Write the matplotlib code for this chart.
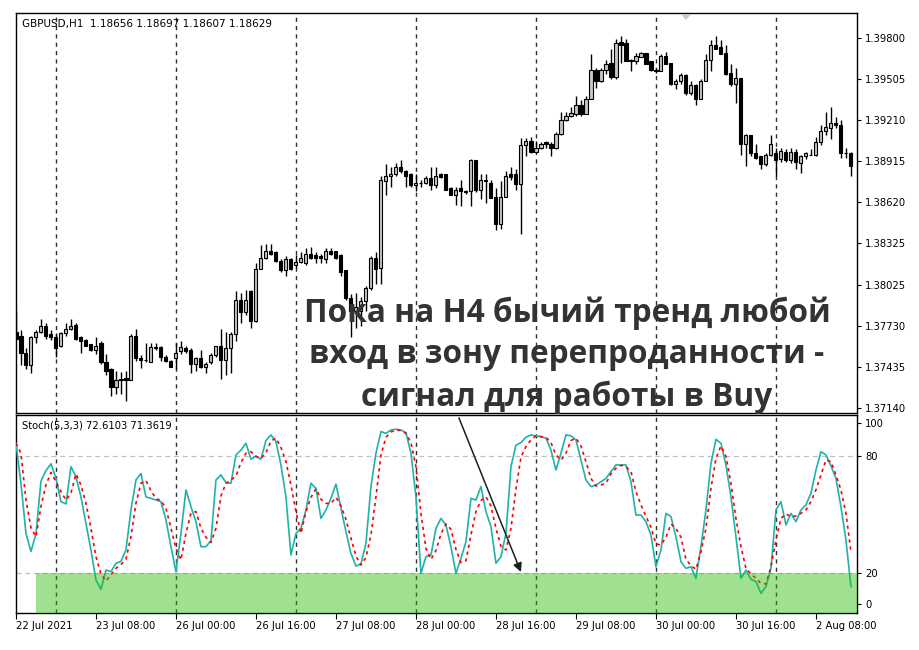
import numpy as np
import matplotlib
matplotlib.use("Agg")
import matplotlib.pyplot as plt
from matplotlib.patches import Rectangle

# ---------------- data (GBPUSD H1) ----------------
opens = [1.3769,1.3766,1.3754,1.3745,1.3765,1.3769,1.3773,1.3767,1.3765,1.3759,
         1.3768,1.3771,1.3774,1.3765,1.3763,1.3760,1.3756,1.3761,1.3747,1.3742,
         1.3729,1.3735,1.3736,1.3734,1.3766,1.3750,1.3749,1.3747,1.3758,1.3758,
         1.3751,1.3748,1.3750,1.3755,1.3757,1.3756,1.3746,1.3750,1.3744,1.3747,
         1.3752,1.3759,1.3749,1.3757,1.3767,1.3792,1.3783,1.3798,1.3777,1.3814,
         1.3822,1.3827,1.3826,1.3820,1.3813,1.3821,1.3817,1.3819,1.3818,1.3825,
         1.3824,1.3823,1.3821,1.3827,1.3827,1.3824,1.3813,1.3793,1.3784,1.3784,
         1.3791,1.3800,1.3822,1.3815,1.3877,1.3881,1.3882,1.3887,1.3884,1.3882,
         1.3874,1.3876,1.3876,1.3879,1.3874,1.3882,1.3882,1.3872,1.3867,1.3872,
         1.3870,1.3870,1.3892,1.3871,1.3878,1.3876,1.3866,1.3846,1.3866,1.3882,
         1.3882,1.3875,1.3903,1.3906,1.3898,1.3901,1.3905,1.3904,1.3901,1.3911,
         1.3921,1.3924,1.3925,1.3932,1.3925,1.3936,1.3957,1.3949,1.3957,1.3962,
         1.3952,1.3977,1.3976,1.3964,1.3963,1.3966,1.3969,1.3963,1.3957,1.3956,
         1.3967,1.3962,1.3947,1.3949,1.3953,1.3940,1.3946,1.3936,1.3949,1.3964,
         1.3975,1.3973,1.3969,1.3955,1.3947,1.3951,1.3904,1.3910,1.3897,1.3895,
         1.3889,1.3896,1.3897,1.3893,1.3898,1.3892,1.3898,1.3890,1.3895,1.3896,
         1.3896,1.3905,1.3913,1.3915,1.3919,1.3917,1.3897,1.3897]
highs = [1.3784,1.3770,1.3757,1.3766,1.3770,1.3778,1.3775,1.3770,1.3768,1.3769,
         1.3775,1.3778,1.3775,1.3766,1.3764,1.3760,1.3765,1.3762,1.3753,1.3743,
         1.3741,1.3740,1.3741,1.3767,1.3771,1.3752,1.3761,1.3761,1.3761,1.3759,
         1.3752,1.3749,1.3761,1.3762,1.3759,1.3757,1.3751,1.3756,1.3747,1.3754,
         1.3759,1.3771,1.3769,1.3769,1.3798,1.3797,1.3799,1.3799,1.3818,1.3831,
         1.3832,1.3832,1.3827,1.3821,1.3823,1.3822,1.3824,1.3826,1.3829,1.3830,
         1.3826,1.3825,1.3829,1.3829,1.3827,1.3825,1.3813,1.3796,1.3797,1.3794,
         1.3802,1.3823,1.3826,1.3881,1.3889,1.3887,1.3890,1.3892,1.3885,1.3883,
         1.3882,1.3878,1.3881,1.3887,1.3887,1.3883,1.3882,1.3873,1.3873,1.3878,
         1.3871,1.3893,1.3892,1.3882,1.3882,1.3878,1.3872,1.3877,1.3884,1.3887,
         1.3886,1.3908,1.3908,1.3909,1.3906,1.3905,1.3906,1.3905,1.3912,1.3927,
         1.3927,1.3930,1.3938,1.3935,1.3938,1.3968,1.3958,1.3958,1.3964,1.3972,
         1.3979,1.3981,1.3979,1.3965,1.3969,1.3970,1.3969,1.3963,1.3958,1.3968,
         1.3970,1.3962,1.3950,1.3955,1.3954,1.3949,1.3947,1.3950,1.3968,1.3978,
         1.3981,1.3978,1.3975,1.3961,1.3958,1.3951,1.3911,1.3910,1.3904,1.3895,
         1.3897,1.3910,1.3901,1.3901,1.3900,1.3901,1.3900,1.3896,1.3898,1.3900,
         1.3909,1.3917,1.3927,1.3930,1.3923,1.3921,1.3901,1.3898]
lows = [1.3763,1.3745,1.3742,1.3739,1.3761,1.3768,1.3764,1.3763,1.3751,1.3758,
        1.3766,1.3770,1.3763,1.3754,1.3759,1.3755,1.3753,1.3746,1.3738,1.3723,
        1.3724,1.3724,1.3719,1.3734,1.3748,1.3743,1.3747,1.3747,1.3756,1.3748,
        1.3747,1.3744,1.3742,1.3753,1.3754,1.3739,1.3741,1.3743,1.3739,1.3746,
        1.3751,1.3735,1.3738,1.3739,1.3762,1.3775,1.3781,1.3772,1.3776,1.3814,
        1.3821,1.3824,1.3819,1.3812,1.3809,1.3813,1.3815,1.3818,1.3817,1.3821,
        1.3818,1.3818,1.3818,1.3824,1.3821,1.3809,1.3792,1.3765,1.3772,1.3773,
        1.3784,1.3799,1.3803,1.3803,1.3867,1.3873,1.3881,1.3883,1.3873,1.3873,
        1.3870,1.3873,1.3875,1.3871,1.3872,1.3879,1.3871,1.3867,1.3860,1.3859,
        1.3868,1.3859,1.3869,1.3864,1.3861,1.3865,1.3842,1.3843,1.3866,1.3878,
        1.3871,1.3839,1.3895,1.3897,1.3897,1.3900,1.3901,1.3895,1.3900,1.3910,
        1.3920,1.3923,1.3924,1.3924,1.3925,1.3936,1.3944,1.3948,1.3954,1.3950,
        1.3950,1.3962,1.3963,1.3956,1.3961,1.3966,1.3961,1.3956,1.3955,1.3956,
        1.3961,1.3946,1.3943,1.3947,1.3939,1.3939,1.3932,1.3936,1.3949,1.3956,
        1.3972,1.3968,1.3953,1.3945,1.3933,1.3896,1.3888,1.3895,1.3893,1.3886,
        1.3888,1.3895,1.3881,1.3891,1.3891,1.3890,1.3886,1.3883,1.3893,1.3896,
        1.3895,1.3903,1.3910,1.3907,1.3915,1.3894,1.3894,1.3881]
closes = [1.3764,1.3754,1.3745,1.3765,1.3769,1.3773,1.3766,1.3765,1.3757,1.3768,
          1.3771,1.3773,1.3764,1.3762,1.3759,1.3756,1.3759,1.3747,1.3741,1.3729,
          1.3734,1.3734,1.3734,1.3766,1.3750,1.3749,1.3749,1.3758,1.3757,1.3751,
          1.3748,1.3744,1.3754,1.3758,1.3755,1.3746,1.3750,1.3744,1.3746,1.3752,
          1.3759,1.3749,1.3757,1.3767,1.3792,1.3783,1.3792,1.3777,1.3814,1.3822,
          1.3827,1.3825,1.3820,1.3813,1.3821,1.3814,1.3819,1.3822,1.3825,1.3822,
          1.3822,1.3822,1.3827,1.3825,1.3822,1.3812,1.3793,1.3784,1.3787,1.3791,
          1.3800,1.3822,1.3814,1.3878,1.3881,1.3882,1.3887,1.3884,1.3881,1.3874,
          1.3876,1.3876,1.3879,1.3874,1.3881,1.3880,1.3871,1.3867,1.3871,1.3870,
          1.3869,1.3892,1.3871,1.3878,1.3877,1.3865,1.3846,1.3866,1.3881,1.3880,
          1.3875,1.3903,1.3906,1.3898,1.3901,1.3904,1.3904,1.3901,1.3911,1.3921,
          1.3924,1.3926,1.3932,1.3925,1.3936,1.3957,1.3949,1.3957,1.3961,1.3952,
          1.3976,1.3975,1.3963,1.3963,1.3967,1.3969,1.3961,1.3957,1.3956,1.3967,
          1.3961,1.3947,1.3949,1.3953,1.3940,1.3946,1.3936,1.3949,1.3964,1.3975,
          1.3972,1.3968,1.3954,1.3947,1.3951,1.3904,1.3910,1.3897,1.3894,1.3889,
          1.3896,1.3904,1.3892,1.3899,1.3892,1.3898,1.3891,1.3895,1.3897,1.3896,
          1.3905,1.3913,1.3916,1.3919,1.3917,1.3897,1.3897,1.3888]

# Stochastic(5,3,3): %K main line and %D signal line
stoch_k = [86.5,66.0,40.3,31.0,40.0,67.0,72.5,76.0,68.5,56.6,
           55.4,74.5,69.4,59.0,45.5,31.8,16.4,11.6,21.5,20.7,
           25.0,26.0,31.8,52.3,67.7,71.0,59.0,58.3,57.4,56.6,
           47.2,33.5,20.7,40.3,62.6,54.0,46.3,33.5,33.5,36.6,
           67.7,70.3,66.3,66.0,80.5,83.0,86.5,78.3,80.0,78.3,
           87.9,90.8,87.4,75.4,59.0,29.2,40.3,42.9,52.3,66.0,
           63.4,48.0,52.3,58.3,65.6,53.2,41.2,30.0,23.6,24.6,
           35.2,64.3,81.4,92.5,91.6,93.3,93.7,93.3,92.0,81.4,
           59.0,19.8,28.4,29.2,42.9,48.0,44.6,33.5,19.8,27.5,
           36.0,58.3,57.4,64.3,51.5,43.8,25.0,28.4,40.3,74.5,
           85.6,86.8,89.6,90.8,90.3,89.9,89.1,83.0,72.8,81.4,
           90.8,90.3,88.2,78.0,67.7,64.3,65.1,66.8,68.5,72.0,
           75.4,75.4,75.4,66.8,49.7,49.7,46.3,39.5,23.2,31.8,
           50.6,48.9,38.6,25.8,22.4,23.2,17.3,33.5,52.3,76.2,
           88.5,86.5,75.4,59.1,38.6,17.3,21.5,16.8,15.6,9.6,
           13.0,22.4,52.3,56.6,44.6,50.6,46.3,52.3,54.9,60.9,
           72.8,82.2,80.5,74.9,68.5,54.0,36.9,13.0]
stoch_d = [86.5,81.4,57.4,43.2,38.6,54.0,65.1,71.5,66.8,61.7,
           57.4,60.9,70.8,65.1,55.7,42.9,28.4,19.5,15.9,19.1,
           22.4,24.4,27.0,38.6,55.7,66.0,67.4,62.2,58.1,57.1,
           53.2,42.9,32.6,26.7,40.3,50.6,51.5,42.9,38.3,35.6,
           42.9,59.5,66.0,67.7,69.7,76.6,81.4,82.2,79.7,78.8,
           81.7,87.7,89.1,84.4,77.1,65.1,51.5,40.3,51.5,58.8,
           63.2,57.8,55.7,55.7,58.8,54.4,47.5,37.8,28.7,24.1,
           28.0,39.5,59.1,80.5,89.6,92.3,93.3,93.0,91.6,86.8,
           74.5,50.6,32.6,27.0,31.5,40.0,45.1,42.4,32.1,25.3,
           26.3,39.5,51.5,57.1,59.1,54.4,42.9,33.8,31.8,42.9,
           62.9,79.3,84.8,88.2,90.3,89.9,89.6,86.8,80.5,77.9,
           81.4,87.9,89.1,85.1,77.1,68.5,64.6,65.1,66.0,70.8,
           73.7,75.2,74.5,72.0,61.7,54.9,49.2,43.4,34.9,34.4,
           38.3,45.1,42.9,38.3,27.0,23.8,21.9,30.9,42.9,63.4,
           78.8,85.1,79.7,66.0,48.0,33.5,22.4,19.5,17.3,14.7,
           14.4,23.2,36.9,48.0,50.3,48.9,49.2,50.6,52.3,56.6,
           62.6,70.3,77.9,77.1,70.3,62.6,50.6,30.9]

price_ticks = [1.39800,1.39505,1.39210,1.38915,1.38620,1.38325,1.38025,1.37730,1.37435,1.37140]
time_labels = ["22 Jul 2021","23 Jul 08:00","26 Jul 00:00","26 Jul 16:00","27 Jul 08:00",
               "28 Jul 00:00","28 Jul 16:00","29 Jul 08:00","30 Jul 00:00","30 Jul 16:00","2 Aug 08:00"]
time_label_bars = [0,16,32,48,64,80,96,112,128,144,160]
day_separators = [8,32,56,80,104,128,152]
stoch_levels = [20,80]
zone_start_bar = 4

header = "GBPUSD,H1  1.18656 1.18697 1.18607 1.18629"
stoch_header = "Stoch(5,3,3) 72.6103 71.3619"
note_lines = ["Пока на H4 бычий тренд любой",
              "вход в зону перепроданности -",
              "сигнал для работы в Buy"]

# ---------------- figure ----------------
W, H = 920, 650
fig = plt.figure(figsize=(W/100, H/100), dpi=100)
fig.patch.set_facecolor("white")

def fx(px): return px / W
def fy(py): return 1 - py / H

L, R = 15.7, 856.7
ax = fig.add_axes([fx(L), fy(412.5), fx(R - L), (412.5 - 13.3) / H])
ax2 = fig.add_axes([fx(L), fy(613), fx(R - L), (613 - 415) / H])

o = np.array(opens); h = np.array(highs); l = np.array(lows); c = np.array(closes)
n = len(o)
idx = np.arange(n)
up = c >= o

ax.vlines(idx, l, h, color="black", lw=1.0, zorder=2)
bot = np.minimum(o, c)
ht = np.abs(c - o)
ax.bar(idx[up], ht[up], bottom=bot[up], width=0.62, color="#c4c4c4",
       edgecolor="black", linewidth=0.8, zorder=3)
ax.bar(idx[~up], ht[~up], bottom=bot[~up], width=0.62, color="black",
       edgecolor="black", linewidth=0.8, zorder=3)

xmin, xmax = -0.05, 168.15
ax.set_xlim(xmin, xmax)
ax.set_ylim(1.37110, 1.39975)
ax2.set_xlim(xmin, xmax)
ax2.set_ylim(-0.5, 101.0)

for a in (ax, ax2):
    for s in a.spines.values():
        s.set_color("black"); s.set_linewidth(1.0)
    for b in day_separators:
        a.axvline(b, color="#303030", lw=1.0, ls=(0, (3, 3)), zorder=1)

# price axis on the right
ax.yaxis.tick_right()
ax.set_yticks(price_ticks)
ax.set_yticklabels([f"{v:.5f}" for v in price_ticks])
ax.tick_params(axis="y", direction="out", length=3, width=0.8, pad=3,
               labelsize=7.2, colors="black")
ax.set_xticks([])

# stochastic panel
ax2.plot(idx, stoch_k, color="#20b2aa", lw=1.2, zorder=3)
ax2.plot(idx, stoch_d, color="#ff0000", lw=1.2, ls=(0, (2.0, 2.2)), zorder=3)
for lv in stoch_levels:
    ax2.axhline(lv, color="#c0c0c0", lw=0.9, ls=(0, (4, 3)), zorder=1)
ax2.add_patch(Rectangle((zone_start_bar, -0.5), xmax - zone_start_bar, 20.5,
                        facecolor=(44/255, 189/255, 11/255), alpha=0.45,
                        edgecolor="none", zorder=4))
ax2.yaxis.tick_right()
ax2.set_yticks([97, 80, 20, 4])
ax2.set_yticklabels(["100", "80", "20", "0"])
ax2.tick_params(axis="y", direction="out", length=3, width=0.8, pad=3,
                labelsize=7.2, colors="black")
ax2.set_xticks(time_label_bars)
ax2.set_xticklabels(time_labels, ha="left")
ax2.tick_params(axis="x", direction="out", length=4, width=0.8, pad=2,
                labelsize=7.2, colors="black")
for t in ax2.get_xticklabels():
    t.set_horizontalalignment("left")

# headers
fig.text(fx(22), fy(24), header, fontsize=7.5, color="black", va="center",
         family="DejaVu Sans")
fig.text(fx(22), fy(426), stoch_header, fontsize=7.2, color="black", va="center",
         family="DejaVu Sans")

# small marker triangle at top
fig.patches.append(plt.Polygon([[fx(681), fy(14)], [fx(691), fy(14)], [fx(686), fy(20)]],
                               closed=True, transform=fig.transFigure,
                               facecolor="#c8c8c8", edgecolor="none"))

# annotation arrow
ax2.annotate("", xy=(101, 20.5), xytext=(88.6, 99.5),
             arrowprops=dict(arrowstyle="-|>", color="#1e1e1e", lw=1.1,
                             mutation_scale=13, shrinkA=0, shrinkB=0),
             zorder=6, annotation_clip=False)

# annotation text
for txt, yy in zip(note_lines, [313, 355, 397]):
    fig.text(fx(567), fy(yy), txt, fontsize=22.8, fontweight="bold",
             family=["Open Sans", "DejaVu Sans"], color="#333333",
             ha="center", va="center", zorder=10)

fig.savefig("out.png", dpi=100, facecolor="white")
